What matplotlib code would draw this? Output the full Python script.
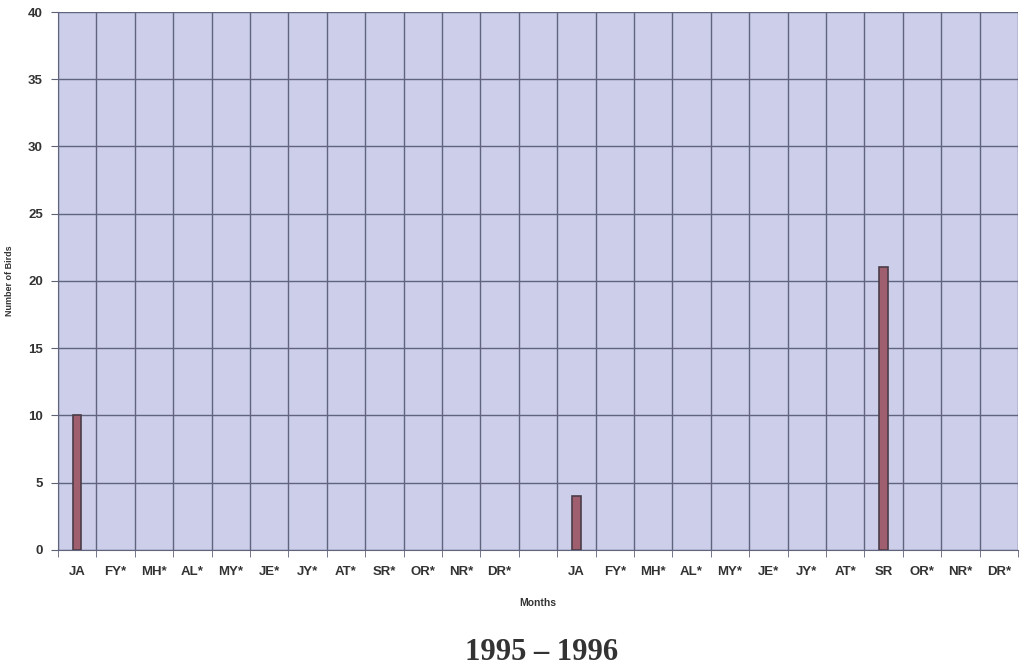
import numpy as np
import matplotlib.pyplot as plt

# categories (blank slot between the two years)
months = ["JA", "FY*", "MH*", "AL*", "MY*", "JE*", "JY*", "AT*", "SR*", "OR*", "NR*", "DR*", "",
          "JA", "FY*", "MH*", "AL*", "MY*", "JE*", "JY*", "AT*", "SR", "OR*", "NR*", "DR*"]
birds = [10, 0, 0, 0, 0, 0, 0, 0, 0, 0, 0, 0, 0,
         4, 0, 0, 0, 0, 0, 0, 0, 21, 0, 0, 0]
yticks = [0, 5, 10, 15, 20, 25, 30, 35, 40]

plt.rcParams["font.family"] = ["Liberation Sans", "DejaVu Sans"]

fig = plt.figure(figsize=(10.22, 6.68), dpi=100)
ax = fig.add_axes([0.0568, 0.177, 0.9392, 0.805])

x = np.arange(len(months))
ax.set_facecolor("#ccceea")
vals = [v if v > 0 else np.nan for v in birds]
ax.bar(x, vals, width=0.22, color="#a05f6e", edgecolor="#4b3d48", linewidth=1.2, zorder=3)

ax.set_xlim(-0.5, len(months) - 0.5)
ax.set_ylim(0, 40)
ax.set_yticks(yticks)
ax.set_yticklabels([str(t) for t in yticks], fontsize=9.5, fontweight="bold", color="#333333")
ax.set_xticks(x)
ax.set_xticklabels(months, fontsize=9.5, fontweight="bold", color="#333333")
ax.tick_params(axis="x", length=0, pad=12)
ax.tick_params(axis="y", length=5, color="#5d6178", pad=6)

# vertical grid at category boundaries
ax.set_xticks(np.arange(-0.5, len(months), 1), minor=True)
ax.tick_params(axis="x", which="minor", length=5, color="#5d6178")
ax.grid(True, which="minor", axis="x", color="#60647c", linewidth=1.0, zorder=1)
ax.grid(True, which="major", axis="y", color="#60647c", linewidth=1.0, zorder=1)

for s in ["top", "right"]:
    ax.spines[s].set_visible(False)
for s in ["left", "bottom"]:
    ax.spines[s].set_color("#60647c")

ax.set_xlabel("Months", fontsize=7.5, fontweight="bold", color="#333333", labelpad=14)
ax.set_ylabel("Number of Birds", fontsize=6.5, fontweight="bold", color="#333333", labelpad=10)

fig.text(0.53, 0.012, "1995 \u2013 1996", ha="center", fontsize=22, fontweight="bold",
         family="Liberation Serif", color="#333333")

fig.savefig("out.png", dpi=100, facecolor="white")
